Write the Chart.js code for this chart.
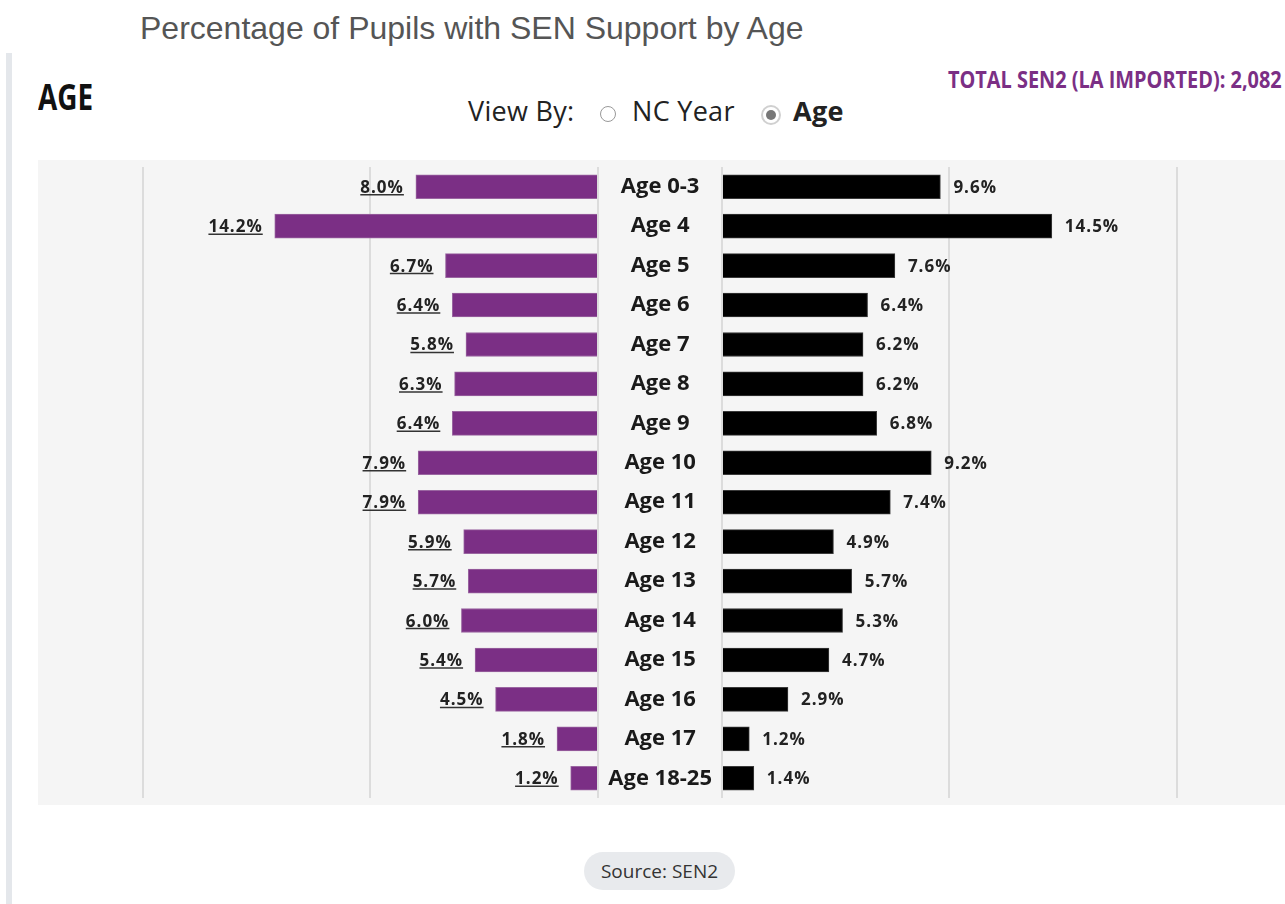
<!DOCTYPE html>
<html>
<head>
<meta charset="utf-8">
<script src="https://cdn.jsdelivr.net/npm/chart.js@4.4.1/dist/chart.umd.min.js"></script>
<style>
  body { margin: 0; background: #fff; font-family: "Open Sans", sans-serif; width: 1285px; height: 904px; overflow: hidden; position: relative; }
  .abs { position: absolute; white-space: nowrap; }
  #title { left: 140px; top: 10px; font: 32px/36px "Liberation Sans", Arial, sans-serif; color: #555; }
  #sidebar { left: 6px; top: 53px; width: 6px; height: 860px; background: #e4e7eb; }
  #age { left: 38px; top: 77px; font: bold 36px/40px "Open Sans"; color: #111; transform-origin: left center; }
  #total { right: 3px; top: 64px; font: bold 23px/30px "Open Sans"; color: #7b2f85; transform-origin: right center; }
  .vb { top: 96px; font: 27px/30px "Open Sans"; color: #222; letter-spacing: 0.3px; }
  .radio { position: absolute; border-radius: 50%; box-sizing: border-box; background: #fff; }
  .radio.off { left: 600px; top: 106px; width: 16px; height: 16px; border: 1.5px solid #999; }
  .radio.on { left: 761px; top: 105px; width: 20px; height: 20px; border: 2px solid #d0d0d0; }
  .radio.on::after { content: ""; position: absolute; left: 3px; top: 3px; width: 10px; height: 10px; border-radius: 50%; background: #777; }
  #panel { left: 38px; top: 160px; width: 1260px; height: 645px; background: #f5f5f5; }
  #source { left: 584px; top: 852px; width: 151px; height: 38px; border-radius: 19px; background: #e8eaed; font: 19px/38px "Open Sans"; color: #333; text-align: center; }
  canvas { position: absolute; }
</style>
</head>
<body>
<div id="sidebar" class="abs"></div>
<div id="title" class="abs">Percentage of Pupils with SEN Support by Age</div>
<div id="age" class="abs">AGE</div>
<div id="total" class="abs">TOTAL SEN2 (LA IMPORTED): 2,082</div>
<div class="abs vb" style="left:468px">View By:</div>
<span class="radio off"></span>
<div class="abs vb" style="left:632px">NC Year</div>
<span class="radio on"></span>
<div class="abs vb" style="left:793px;font-weight:bold">Age</div>
<div id="panel" class="abs"></div>
<canvas id="leftChart" width="562" height="645" style="left:38px;top:160px"></canvas>
<canvas id="rightChart" width="687" height="645" style="left:598px;top:160px"></canvas>
<div id="source" class="abs">Source: SEN2</div>

<script>
// age groups and the two series (percent)
const ageGroups = ['Age 0-3', 'Age 4', 'Age 5', 'Age 6', 'Age 7', 'Age 8', 'Age 9', 'Age 10',
    'Age 11', 'Age 12', 'Age 13', 'Age 14', 'Age 15', 'Age 16', 'Age 17', 'Age 18-25'];
const leftValues = [8.0, 14.2, 6.7, 6.4, 5.8, 6.3, 6.4, 7.9, 7.9, 5.9, 5.7, 6.0, 5.4, 4.5, 1.8, 1.2];
const rightValues = [9.6, 14.5, 7.6, 6.4, 6.2, 6.2, 6.8, 9.2, 7.4, 4.9, 5.7, 5.3, 4.7, 2.9, 1.2, 1.4];
const gridTicks = [0, 10, 20];

// squeeze the condensed headings to their width in the picture
function fitWidth(id, target) {
    const el = document.getElementById(id);
    el.style.transform = 'scaleX(' + (target / el.offsetWidth) + ')';
}
fitWidth('age', 55);
fitWidth('total', 334);

// value labels next to each bar
const valueLabels = {
    id: 'valueLabels',
    afterDatasetsDraw(chart, args, opts) {
        const ctx = chart.ctx;
        const meta = chart.getDatasetMeta(0);
        const values = chart.data.datasets[0].data;
        ctx.save();
        ctx.font = 'bold 17px "Open Sans"';
        ctx.letterSpacing = '1px';
        ctx.fillStyle = '#222';
        ctx.strokeStyle = '#333';
        ctx.lineWidth = 1.5;
        ctx.textBaseline = 'alphabetic';
        meta.data.forEach((bar, i) => {
            const text = values[i].toFixed(1) + '%';
            const w = ctx.measureText(text).width;
            const y = bar.y + 6;
            if (opts.side === 'left') {
                const x = bar.x - 12;
                ctx.textAlign = 'right';
                ctx.fillText(text, x, y);
                ctx.beginPath();
                ctx.moveTo(x - w, y + 2);
                ctx.lineTo(x, y + 2);
                ctx.stroke();
            } else {
                ctx.textAlign = 'left';
                ctx.fillText(text, bar.x + 13, y);
            }
        });
        ctx.restore();
    }
};

function xScale(max, reverse) {
    return {
        min: 0,
        max: max,
        reverse: reverse,
        afterBuildTicks: s => { s.ticks = gridTicks.map(v => ({ value: v })); },
        grid: { color: '#dcdcdc', lineWidth: 2, drawTicks: false },
        border: { display: false },
        ticks: { display: false }
    };
}

const common = {
    indexAxis: 'y',
    responsive: false,
    animation: false,
    events: [],
    layout: { padding: { top: 7, bottom: 7, left: 0, right: 0 } },
    plugins: { legend: { display: false }, tooltip: { enabled: false } }
};

new Chart(document.getElementById('leftChart'), {
    type: 'bar',
    data: {
        labels: ageGroups,
        datasets: [{
            data: leftValues,
            backgroundColor: '#7b2f85',
            borderColor: '#9a66a1',
            borderWidth: 1,
            barThickness: 24
        }]
    },
    options: {
        ...common,
        layout: { padding: { top: 7, bottom: 7, left: 0, right: 2 } },
        scales: {
            x: xScale(24.6, true),
            y: { display: false }
        },
        plugins: { ...common.plugins, valueLabels: { side: 'left' } }
    },
    plugins: [valueLabels]
});

new Chart(document.getElementById('rightChart'), {
    type: 'bar',
    data: {
        labels: ageGroups,
        datasets: [{
            data: rightValues,
            backgroundColor: '#000',
            borderColor: '#3a3a3a',
            borderWidth: 1,
            barThickness: 24
        }]
    },
    options: {
        ...common,
        scales: {
            x: xScale(24.75, false),
            y: {
                afterFit: s => { s.width = 124; s.paddingTop = 0; s.paddingBottom = 0; },
                grid: { display: false, drawTicks: false },
                border: { display: false },
                ticks: {
                    crossAlign: 'center',
                    padding: 10,
                    color: '#1a1a1a',
                    font: { family: 'Open Sans', size: 22, weight: 'bold' }
                }
            }
        },
        plugins: { ...common.plugins, valueLabels: { side: 'right' } }
    },
    plugins: [valueLabels]
});
</script>
</body>
</html>
